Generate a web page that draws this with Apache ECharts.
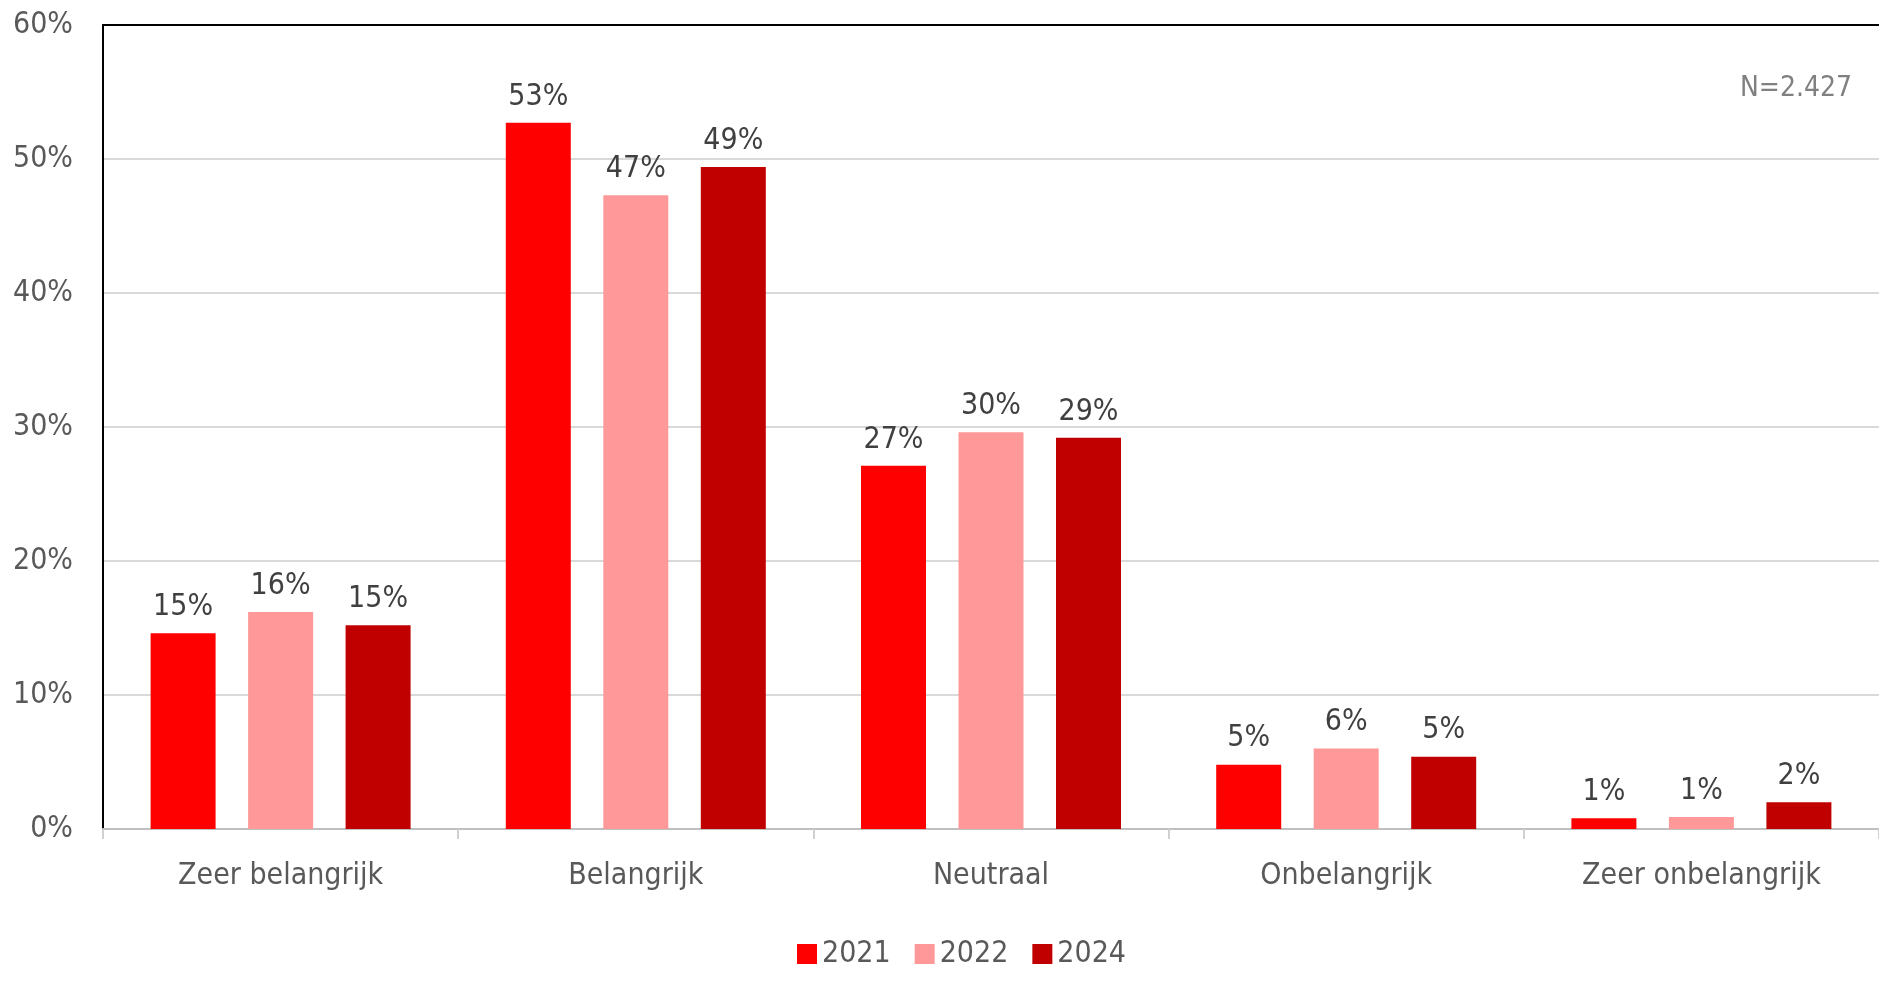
<!DOCTYPE html>
<html>
<head>
<meta charset="utf-8">
<script src="https://cdn.jsdelivr.net/npm/echarts@6/dist/echarts.min.js"></script>
<style>
  html, body { margin: 0; padding: 0; background: #fff; }
  #main { width: 1879px; height: 981px; }
</style>
</head>
<body>
<div id="main"></div>
<script>
var categories = ["Zeer belangrijk", "Belangrijk", "Neutraal", "Onbelangrijk", "Zeer onbelangrijk"];
var years = ["2021", "2022", "2024"];
var values2021 = [14.6, 52.7, 27.1, 4.8, 0.8];
var values2022 = [16.2, 47.3, 29.6, 6.0, 0.9];
var values2024 = [15.2, 49.4, 29.2, 5.4, 2.0];
var colors = ["#ff0000", "#ff9999", "#c00000"];
var noteText = "N=2.427";

var FONT = '"DejaVu Sans Condensed", Roboto, sans-serif';

var chart = echarts.init(document.getElementById("main"));

function makeSeries(name, data, color) {
  return {
    name: name,
    type: "bar",
    data: data,
    barWidth: 65,
    barGap: "50%",
    itemStyle: { color: color },
    label: {
      show: true,
      position: "top",
      distance: 11,
      fontFamily: FONT,
      fontSize: 30,
      color: "#404040",
      formatter: function (p) {
        return Math.round(p.value) + "%";
      },
    },
  };
}

var option = {
  animation: false,
  textStyle: { fontFamily: FONT },
  title: {
    text: noteText,
    right: 22,
    top: 70,
    textStyle: {
      fontFamily: FONT,
      fontSize: 28,
      fontWeight: "normal",
      color: "#808080",
    },
  },
  legend: {
    data: years,
    left: 792,
    bottom: 7,
    icon: "rect",
    itemWidth: 20,
    itemHeight: 20,
    itemGap: 24,
    textStyle: { fontFamily: FONT, fontSize: 30, color: "#595959" },
  },
  grid: {
    left: 103,
    right: 0,
    top: 25,
    bottom: 152,
  },
  xAxis: [
    {
      type: "category",
      data: categories,
      axisLine: { lineStyle: { color: "#bfbfbf", width: 2 } },
      axisTick: { show: true, length: 10, lineStyle: { color: "#d0d0d0", width: 2 } },
      axisLabel: { margin: 32, fontFamily: FONT, fontSize: 30, color: "#595959" },
    },
    {
      type: "category",
      data: categories,
      position: "top",
      axisLine: { lineStyle: { color: "#000", width: 2 } },
      axisTick: { show: false },
      axisLabel: { show: false },
    },
  ],
  yAxis: {
    type: "value",
    min: 0,
    max: 60,
    interval: 10,
    axisLine: { show: true, lineStyle: { color: "#000", width: 2 } },
    axisTick: { show: false },
    splitLine: { lineStyle: { color: "#d9d9d9", width: 2 } },
    axisLabel: {
      margin: 30,
      fontFamily: FONT,
      fontSize: 30,
      color: "#595959",
      formatter: "{value}%",
    },
  },
  series: [
    makeSeries(years[0], values2021, colors[0]),
    makeSeries(years[1], values2022, colors[1]),
    makeSeries(years[2], values2024, colors[2]),
  ],
};

chart.setOption(option);
</script>
</body>
</html>
